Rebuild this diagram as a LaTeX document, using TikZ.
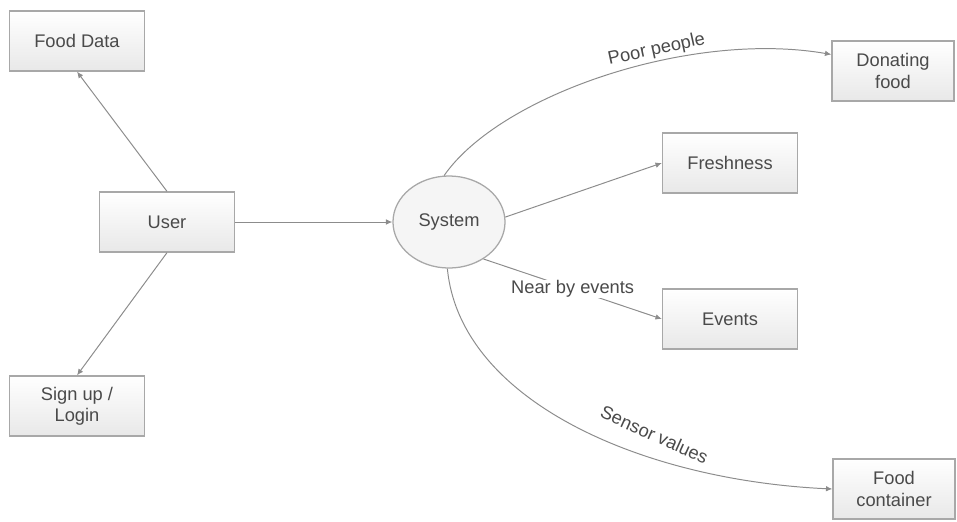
\documentclass[tikz,border=0pt]{standalone}
\usepackage{fontspec}
\setmainfont{Liberation Sans}
\usetikzlibrary{arrows.meta,shapes.geometric}
\definecolor{edgegray}{HTML}{8C8C8C}
\definecolor{framegray}{HTML}{A8A8A8}
\definecolor{inkgray}{HTML}{4A4A4A}

\begin{document}
\begin{tikzpicture}[
    x=0.025cm, y=-0.025cm,
    font=\fontsize{13}{15}\selectfont, text=inkgray,
    block/.style={draw=framegray, line width=0.9pt, top color=white, bottom color=black!9,
                  minimum width=3.375cm, minimum height=1.5cm, align=center, inner sep=2pt},
    hub/.style={ellipse, draw=framegray, line width=0.9pt, fill=black!4,
                minimum width=2.8cm, minimum height=2.3cm, inner sep=0pt},
    flow/.style={-{Latex[length=1.6mm,width=1.4mm]}, draw=edgegray, line width=0.7pt},
    tagline/.style={text=inkgray, inner sep=1pt}
]
\useasboundingbox (0,0) rectangle (957,521);

\node[block] (food) at (77,41) {Food Data};
\node[block] (user) at (167,222) {User};
\node[block] (sign) at (77,406) {Sign up /\\Login};
\node[hub] (sys) at (449,222) {System};
\node[block, minimum width=3.05cm] (donate) at (893,71) {Donating\\food};
\node[block] (fresh) at (730,163) {Freshness};
\node[block] (events) at (730,319) {Events};
\node[block, minimum width=3.05cm] (cont) at (894,489) {Food\\container};

\draw[flow] (user.north) -- (food.south);
\draw[flow] (user.south) -- (sign.north);
\draw[flow] (user.east) -- (sys.west);
\draw[flow] (sys.96) .. controls (500,95) and (690,30) .. node[tagline, pos=0.62, sloped, above=1pt] {Poor people} (donate.165);
\draw[flow] (sys.5) -- (fresh.west);
\draw[flow] (sys.-47) -- node[tagline, fill=white, inner sep=0pt] {Near by events} (events.west);
\draw[flow] (sys.-92) .. controls (460,400) and (640,480) .. node[tagline, pos=0.66, sloped, above=10pt, rotate=-6] {Sensor values} (cont.west);
\end{tikzpicture}
\end{document}
